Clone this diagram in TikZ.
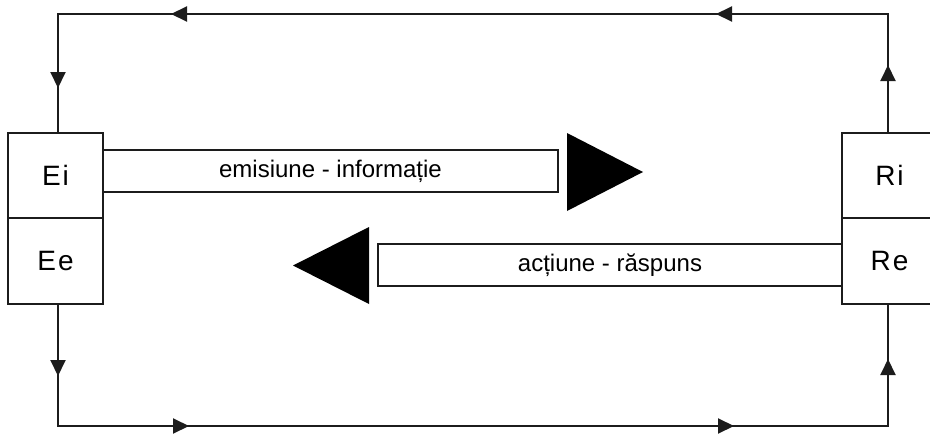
\documentclass[tikz,border=0pt]{standalone}
\usepackage{fontspec}
\setmainfont{Liberation Sans}
\newfontfamily\boxfont[LetterSpace=7]{Liberation Sans}
\usetikzlibrary{arrows.meta}
\definecolor{ink}{RGB}{28,28,28}
\begin{document}
\begin{tikzpicture}[x=1pt,y=-1pt,
  line/.style={draw=ink,line width=2pt},
  box/.style={line,rectangle,fill=white,minimum width=95pt,inner sep=0pt,
    font=\boxfont\fontsize{28}{32}\selectfont},
  bar/.style={line,rectangle,fill=white,minimum height=42pt,inner sep=0pt,
    font=\fontsize{24}{28}\selectfont},
  tip/.style={line,-{Triangle[length=16pt,width=15pt]}},
  big/.style={fill=black}]
\useasboundingbox (0,0) rectangle (930,434);
\begin{scope}
\clip (0,0) rectangle (930,434);

% sender and receiver blocks
\node[box,minimum height=85pt] (Ei) at (55.5,175.5) {Ei};
\node[box,minimum height=86pt] (Ee) at (55.5,261) {Ee};
\node[box,minimum height=85pt] (Ri) at (889.5,175.5) {Ri};
\node[box,minimum height=86pt] (Re) at (889.5,261) {Re};

% message bars
\node[bar,minimum width=455pt] (emis) at (330.5,171) {emisiune - informație};
\node[bar,minimum width=464pt] (act) at (610,265) {acțiune - răspuns};

% large direction heads
\fill[big] (567,133) -- (643,172) -- (567,211) -- cycle;
\fill[big] (369,227) -- (293,265.5) -- (369,304) -- cycle;

% loop corners
\coordinate (tl) at (58,14);
\coordinate (tr) at (888,14);
\coordinate (bl) at (58,426);
\coordinate (br) at (888,426);

% upper loop: Ri -> Ei
\draw[line] (Ri.north -| tr) -- (tr) -- (tl) -- (Ei.north -| tl);
% lower loop: Ee -> Re
\draw[line] (Ee.south -| bl) -- (bl) -- (br) -- (Re.south -| br);

% direction marks on the loops
\draw[tip] (888,83) -- (888,65);
\draw[tip] (190,14) -- (171,14);
\draw[tip] (735,14) -- (716,14);
\draw[tip] (58,70) -- (58,88);
\draw[tip] (58,358) -- (58,376);
\draw[tip] (170,426) -- (189,426);
\draw[tip] (715,426) -- (734,426);
\draw[tip] (888,378) -- (888,359);
\end{scope}
\end{tikzpicture}
\end{document}
